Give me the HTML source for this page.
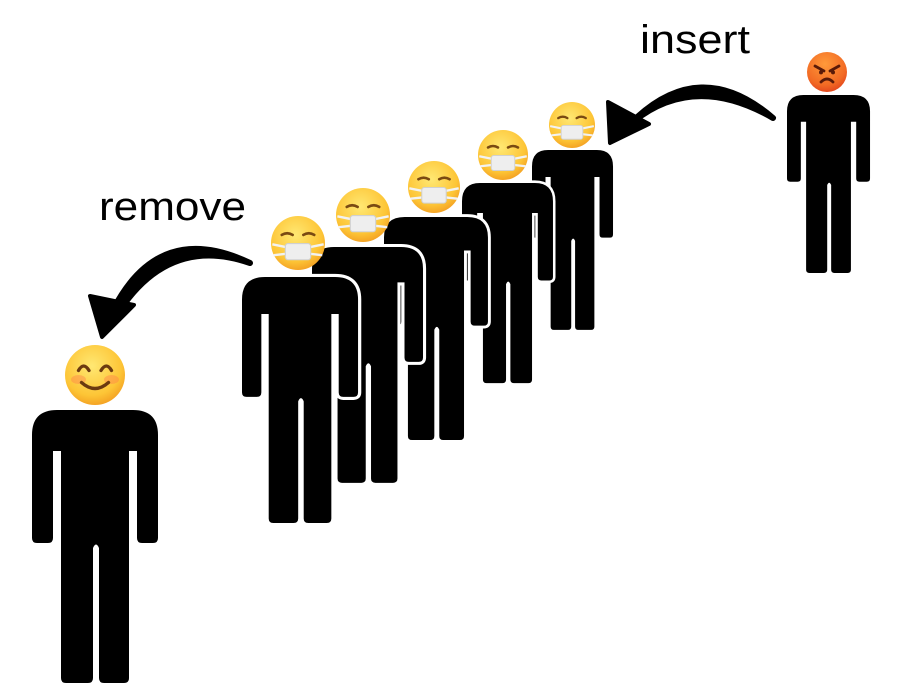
<!DOCTYPE html>
<html><head><meta charset="utf-8"><style>html,body{margin:0;padding:0;background:#fff}svg{display:block}</style></head><body>
<svg width="900" height="700" viewBox="0 0 900 700" xmlns="http://www.w3.org/2000/svg">
<defs>
<radialGradient id="yel" cx="0.45" cy="0.35" r="0.7"><stop offset="0" stop-color="#FFE873"/><stop offset="0.7" stop-color="#FDC536"/><stop offset="1" stop-color="#F29A1F"/></radialGradient>
<radialGradient id="red" cx="0.45" cy="0.3" r="0.75"><stop offset="0" stop-color="#FF9A3A"/><stop offset="0.7" stop-color="#F26A24"/><stop offset="1" stop-color="#E0401C"/></radialGradient>
<path id="p" d="M25,0 H101 Q126,0 126,25 V128 Q126,133 121,133 H110 Q105,133 105,128 V41 H97 V268 Q97,273 92,273 H72 Q67,273 67,268 V138 Q64,131 61,138 V268 Q61,273 56,273 H34 Q29,273 29,268 V41 H21 V128 Q21,133 16,133 H5 Q0,133 0,128 V25 Q0,0 25,0 Z"/>
<g id="mask">
<circle r="1" fill="url(#yel)"/>
<path d="M-0.6,-0.3 Q-0.4,-0.42 -0.2,-0.3 M0.2,-0.3 Q0.4,-0.42 0.6,-0.3" stroke="#7a4a12" stroke-width="0.1" fill="none" stroke-linecap="round"/>
<path d="M-0.95,0.05 L-0.45,0.15 M-0.9,0.45 L-0.45,0.4 M0.95,0.05 L0.45,0.15 M0.9,0.45 L0.45,0.4" stroke="#f2f2f2" stroke-width="0.09"/>
<rect x="-0.47" y="0.02" width="0.94" height="0.6" rx="0.1" fill="#eeeeee" stroke="#d0d0d0" stroke-width="0.04"/>
</g>
</defs>
<g fill="#000" stroke="#fff" stroke-width="7" paint-order="stroke" stroke-linejoin="round">
<use href="#p" transform="translate(532,150) scale(0.643,0.659)"/>
<use href="#p" transform="translate(462,183) scale(0.722,0.733)"/>
<use href="#p" transform="translate(384,217) scale(0.825,0.817)"/>
<use href="#p" transform="translate(312,247) scale(0.881,0.864)"/>
<use href="#p" transform="translate(242,277) scale(0.921,0.901)"/>
<use href="#p" transform="translate(32,410)"/>
<use href="#p" transform="translate(787,95) scale(0.659,0.652)"/>
</g>
<use href="#mask" transform="translate(572,125) scale(23)"/>
<use href="#mask" transform="translate(503,155) scale(25)"/>
<use href="#mask" transform="translate(434,187) scale(26)"/>
<use href="#mask" transform="translate(363,215) scale(27)"/>
<use href="#mask" transform="translate(298,243) scale(27)"/>
<g transform="translate(95,375) scale(30)">
<circle r="1" fill="url(#yel)"/>
<ellipse cx="-0.55" cy="0.15" rx="0.25" ry="0.15" fill="#ff7a4a" opacity="0.4"/>
<ellipse cx="0.55" cy="0.15" rx="0.25" ry="0.15" fill="#ff7a4a" opacity="0.4"/>
<path d="M-0.55,-0.15 Q-0.38,-0.45 -0.2,-0.15 M0.2,-0.15 Q0.38,-0.45 0.55,-0.15 M-0.45,0.25 Q0,0.65 0.45,0.25" stroke="#6b3a10" stroke-width="0.11" fill="none" stroke-linecap="round"/>
</g>
<g transform="translate(827,72) scale(20)">
<circle r="1" fill="url(#red)"/>
<path d="M-0.6,-0.3 L-0.15,-0.05 M0.6,-0.3 L0.15,-0.05 M-0.3,0.5 Q0,0.2 0.3,0.5" stroke="#5a1a08" stroke-width="0.14" fill="none" stroke-linecap="round"/>
<circle cx="-0.3" cy="0.02" r="0.1" fill="#5a1a08"/><circle cx="0.3" cy="0.02" r="0.1" fill="#5a1a08"/>
</g>
<path d="M773,118 Q700,55 632,122 L627,127 Q690,70 773,118 Z" fill="#000" stroke="#000" stroke-width="6" stroke-linejoin="round"/>
<path d="M608,102 L649,124 L610,143 Z" fill="#000" stroke="#000" stroke-width="4" stroke-linejoin="round"/>
<path d="M250,263 Q160,220 114,308 L120,310 Q170,235 250,263 Z" fill="#000" stroke="#000" stroke-width="6" stroke-linejoin="round"/>
<path d="M90,296 L134,305 L102,337 Z" fill="#000" stroke="#000" stroke-width="4" stroke-linejoin="round"/>
<text x="640" y="53" font-family="Liberation Sans, sans-serif" font-size="40" textLength="110" lengthAdjust="spacingAndGlyphs">insert</text>
<text x="99" y="220" font-family="Liberation Sans, sans-serif" font-size="40" textLength="147" lengthAdjust="spacingAndGlyphs">remove</text>
</svg>
</body></html>
